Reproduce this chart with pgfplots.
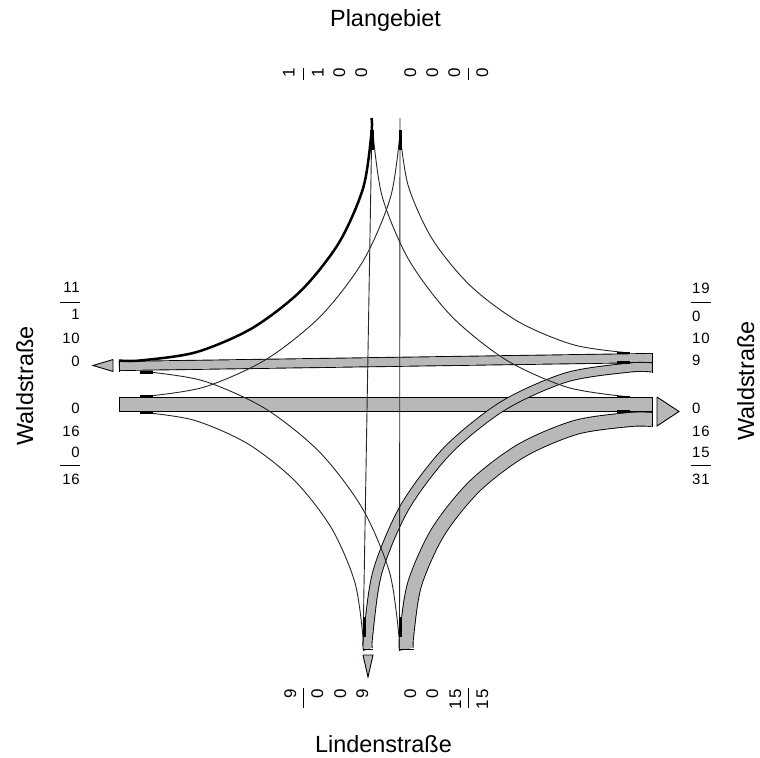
\documentclass[border=0pt]{standalone}
\usepackage{pgfplots}
\pgfplotsset{compat=1.18}
\usepackage{pgfplotstable}
\usepackage{fontspec}
\setmainfont{Liberation Sans}
\newfontfamily\numfont[LetterSpace=6]{Liberation Sans}
\definecolor{bandgray}{RGB}{182,184,186}

% flow bands: centre lines, pixel coordinates of the 760x758 plan (y downwards)
\pgfplotstableread{
x y
119 404.5
652 404.5
}\bandWE
\pgfplotstableread{
x y
652 358
119 366
}\bandEW
\pgfplotstableread{
x y
652 367.5
630 367.5
566.9 377.2
503.7 405.4
448.1 449.9
404.8 507.1
377.4 572.1
368 637
368 649
}\bandES
\pgfplotstableread{
x y
406.5 649
406.5 637
414.5 584.6
437.9 532.1
474.8 486.0
522.2 450.1
576.1 427.3
630 419.5
652 419.5
}\bandSE
% single-vehicle and empty streams
\pgfplotstableread{
x y
371.5 118
371.5 133
363.2 187.8
339.0 242.7
300.7 291.0
251.6 328.5
195.8 352.3
140 360.5
119 360.5
}\lineNW
\pgfplotstableread{
x y
373 133
382.2 196.6
409.1 260.3
451.6 316.3
506.1 359.9
568.1 387.5
630 397
}\lineNE
\pgfplotstableread{
x y
400 133
408.3 186.0
432.3 239.1
470.3 285.7
519.1 322.1
574.6 345.1
630 353
}\lineEN
\pgfplotstableread{
x y
400 133
390.7 196.6
363.5 260.3
320.5 316.3
265.3 359.9
202.7 387.5
140 397
}\lineWN
\pgfplotstableread{
x y
363 637
355.0 582.8
331.7 528.5
294.8 480.8
247.5 443.6
193.7 420.1
140 412
}\lineWS
\pgfplotstableread{
x y
399 637
389.7 572.9
362.6 508.8
319.8 452.3
264.9 408.4
202.4 380.6
140 371
}\lineSW

\pgfplotsset{
  band/.style={smooth, draw=black, line width=0.9bp, double=bandgray, line cap=butt},
  zero/.style={smooth, black!85, line width=0.9bp},
  stub/.style={black, line width=2.6bp, line cap=butt},
  edge/.style={black, line width=0.9bp},
}

\begin{document}
\begin{tikzpicture}
\begin{axis}[
    x=1bp, y=1bp, y dir=reverse,
    xmin=0, xmax=760, ymin=0, ymax=758,
    hide axis, clip=false,
]
\addplot[draw=none] coordinates {(0,0) (760,758)};

% bands
\addplot[band, double distance=13.2bp] table {\bandWE};
\addplot[band, double distance=8.2bp] table {\bandEW};
\addplot[band, double distance=13.2bp] table {\bandSE};
\addplot[band, double distance=8.2bp] table {\bandES};

% band ends
\addplot[edge] coordinates {(119,360) (119,371.5)};
\addplot[edge] coordinates {(119,396.8) (119,412.2)};
\addplot[edge] coordinates {(652,352.5) (652,372.5)};
\addplot[edge] coordinates {(652,396.8) (652,427.2)};
\addplot[edge] coordinates {(363,649) (373,649)};
\addplot[edge] coordinates {(398.8,649) (414.2,649)};

% straight and empty streams
\addplot[zero] coordinates {(372,118) (363,645)};
\addplot[zero] coordinates {(399.5,649) (400,118)};
\addplot[zero] table {\lineNE};
\addplot[zero] table {\lineEN};
\addplot[zero] table {\lineWN};
\addplot[zero] table {\lineWS};
\addplot[zero] table {\lineSW};
\addplot[smooth, black, line width=2.5bp] table {\lineNW};

% stubs at the lane ends
\addplot[stub, line width=4bp] coordinates {(372,130) (372,150)};
\addplot[stub, line width=3bp] coordinates {(400,130) (400,150)};
\addplot[stub, line width=3bp] coordinates {(364,617) (364,637)};
\addplot[stub, line width=3bp] coordinates {(400,617) (400,637)};
\addplot[stub] coordinates {(140,372.5) (153,372.5)};
\addplot[stub] coordinates {(140,396) (153,396)};
\addplot[stub] coordinates {(140,413) (153,413)};
\addplot[stub] coordinates {(617,353) (630,353)};
\addplot[stub] coordinates {(617,362.5) (630,362.5)};
\addplot[stub] coordinates {(617,397) (630,397)};
\addplot[stub] coordinates {(617,411.5) (630,411.5)};

% exit arrows
\addplot[fill=bandgray, draw=black, line width=0.9bp] coordinates {(113,359.5) (93,365.5) (113,371.5) (113,359.5)};
\addplot[fill=bandgray, draw=black, line width=0.9bp] coordinates {(657,397) (679,411.5) (657,426) (657,397)};
\addplot[fill=bandgray, draw=black, line width=0.9bp] coordinates {(363,655) (373,655) (368,677) (363,655)};

% arm names
\node[inner sep=0, anchor=base, font=\fontsize{23.5}{28}\selectfont] at (axis cs:385.5,27) {Plangebiet};
\node[inner sep=0, anchor=base, font=\fontsize{23.5}{28}\selectfont] at (axis cs:383.5,752) {Lindenstraße};
\node[inner sep=0, anchor=base, rotate=90, font=\fontsize{23.5}{28}\selectfont] at (axis cs:33,386) {Waldstraße};
\node[inner sep=0, anchor=base, rotate=90, font=\fontsize{23.5}{28}\selectfont] at (axis cs:754,381) {Waldstraße};

% west arm
\begin{scope}[every node/.style={inner sep=0, anchor=base east, font=\numfont\fontsize{15}{17}\selectfont}]
\node at (axis cs:80,292) {11};
\node at (axis cs:80,319) {1};
\node at (axis cs:80,343) {10};
\node at (axis cs:80,366) {0};
\node at (axis cs:80,413) {0};
\node at (axis cs:80,436) {16};
\node at (axis cs:80,457) {0};
\node at (axis cs:80,484) {16};
\end{scope}
\draw[line width=1bp] (axis cs:60,302) -- (axis cs:80,302);
\draw[line width=1bp] (axis cs:60,465) -- (axis cs:80,465);

% east arm
\begin{scope}[every node/.style={inner sep=0, anchor=base west, font=\numfont\fontsize{15}{17}\selectfont}]
\node at (axis cs:692,293) {19};
\node at (axis cs:692,321) {0};
\node at (axis cs:692,343) {10};
\node at (axis cs:692,365) {9};
\node at (axis cs:692,413) {0};
\node at (axis cs:692,436) {16};
\node at (axis cs:692,457) {15};
\node at (axis cs:692,484) {31};
\end{scope}
\draw[line width=1bp] (axis cs:691,302) -- (axis cs:711,302);
\draw[line width=1bp] (axis cs:691,465) -- (axis cs:711,465);

% north arm
\begin{scope}[every node/.style={inner sep=0, anchor=base west, rotate=90, font=\numfont\fontsize{17}{19}\selectfont}]
\node at (axis cs:294.5,78) {1};
\node at (axis cs:323.5,78) {1};
\node at (axis cs:345,78) {0};
\node at (axis cs:367,78) {0};
\node at (axis cs:416,78) {0};
\node at (axis cs:438,78) {0};
\node at (axis cs:460,78) {0};
\node at (axis cs:488,78) {0};
\end{scope}
\draw[line width=1bp] (axis cs:303,68) -- (axis cs:303,80);
\draw[line width=1bp] (axis cs:468,68) -- (axis cs:468,80);

% south arm
\begin{scope}[every node/.style={inner sep=0, anchor=base east, rotate=90, font=\numfont\fontsize{17}{19}\selectfont}]
\node at (axis cs:296,689) {9};
\node at (axis cs:323,689) {0};
\node at (axis cs:346,689) {0};
\node at (axis cs:368,689) {9};
\node at (axis cs:416,689) {0};
\node at (axis cs:438,689) {0};
\node at (axis cs:461,689) {15};
\node at (axis cs:488,689) {15};
\end{scope}
\draw[line width=1bp] (axis cs:303,688) -- (axis cs:303,708);
\draw[line width=1bp] (axis cs:468,688) -- (axis cs:468,708);
\end{axis}
\end{tikzpicture}
\end{document}
